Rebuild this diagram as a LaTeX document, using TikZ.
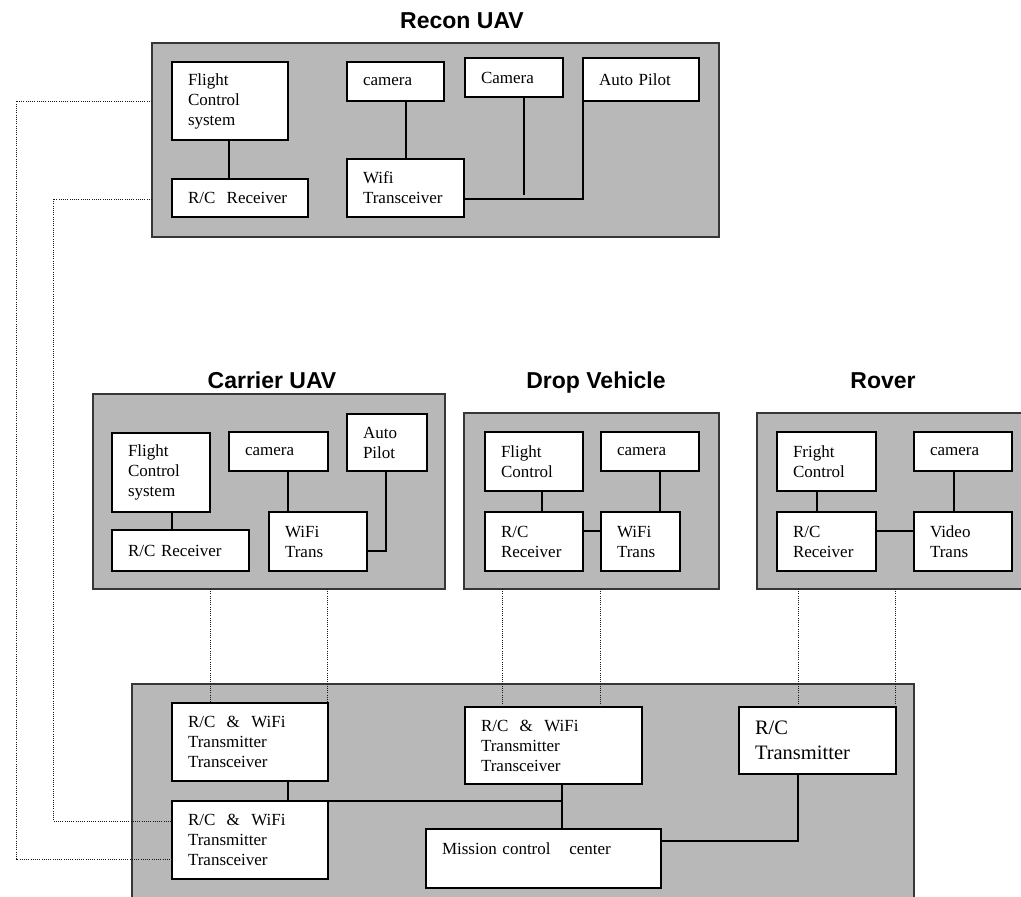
\documentclass[tikz,border=0pt]{standalone}
\usepackage{fontspec}
\setmainfont{Liberation Serif}
\setsansfont{Liberation Sans}
\definecolor{panelgray}{RGB}{184,184,184}
\definecolor{paneledge}{RGB}{55,55,55}
\newcommand\mkblk[7][]{%
  \pgfmathsetmacro\mybw{#5-#3-32}%
  \pgfmathsetmacro\mybh{#6-#4}%
  \node[blk,#1, text width=\mybw pt, minimum height=\mybh pt] (#2) at (#3,#4) {#7};}
\newcommand\mkpanel[5]{%
  \pgfmathsetmacro\mybw{#4-#2}%
  \pgfmathsetmacro\mybh{#5-#3}%
  \node[panelbox, minimum width=\mybw pt, minimum height=\mybh pt] (#1) at (#2,#3) {};}
\begin{document}
\begin{tikzpicture}[x=1pt,y=-1pt,
  panelbox/.style={draw=paneledge, line width=1.4pt, fill=panelgray, anchor=north west, inner sep=0pt, outer sep=0pt},
  blk/.style={draw=black, line width=1.1pt, fill=white, anchor=north west, inner xsep=16pt, inner ysep=0pt, outer sep=0pt, align=left, font=\fontsize{17}{20}\selectfont},
  bigtext/.style={font=\fontsize{20.5}{25}\selectfont},
  title/.style={font=\sffamily\bfseries\fontsize{23}{27}\selectfont, anchor=base, inner sep=0pt},
  wire/.style={line width=1.1pt, draw=black},
  radio/.style={line width=1pt, draw=black!90, dash pattern=on 1pt off 1.2pt}
]
\useasboundingbox (0,0) rectangle (1021,897);
\clip (0,0) rectangle (1021,897);

% titles
\node[title] (trecon) at (462,28) {Recon UAV};
\node[title] (tcarrier) at (272,388) {Carrier UAV};
\node[title] (tdrop) at (596,388) {Drop Vehicle};
\node[title] (trover) at (883,388) {Rover};

% panels
\mkpanel{recon}{152}{43}{719}{237}
\mkpanel{carrier}{93}{394}{445}{589}
\mkpanel{drop}{464}{413}{719}{589}
\mkpanel{rover}{757}{413}{1026}{589}
\mkpanel{ground}{132}{684}{914}{910}

% Recon UAV
\mkblk{rfcs}{172}{62}{288}{140}{Flight\\Control\\system}
\mkblk{rrc}{172}{179}{308}{217}{R/C\ \ Receiver}
\mkblk{rcam}{347}{62}{444}{101}{camera}
\mkblk{rwifi}{347}{159}{464}{217}{Wifi\\Transceiver}
\mkblk{rcam2}{465}{58}{563}{97}{Camera}
\mkblk{rap}{583}{58}{699}{101}{Auto Pilot}
\coordinate (rcamend) at (524,195);
\draw[wire] (rfcs.south -| 229,0) -- (rrc.north -| 229,0);
\draw[wire] (rcam.south -| 406,0) -- (rwifi.north -| 406,0);
\draw[wire] (rcam2.south -| 524,0) -- (rcamend);
\draw[wire] (rwifi.east |- 0,199) -| (rap.south west);

% Carrier UAV
\mkblk{cfcs}{112}{433}{210}{512}{Flight\\Control\\system}
\mkblk{crc}{112}{530}{249}{571}{R/C Receiver}
\mkblk{ccam}{229}{432}{328}{471}{camera}
\mkblk{cwifi}{269}{512}{367}{571}{WiFi\\Trans}
\mkblk{cap}{347}{414}{427}{471}{Auto\\Pilot}
\draw[wire] (cfcs.south -| 172,0) -- (crc.north -| 172,0);
\draw[wire] (ccam.south -| 288,0) -- (cwifi.north -| 288,0);
\draw[wire] (cap.south -| 386,0) |- (cwifi.east |- 0,551);

% Drop Vehicle
\mkblk{dfc}{485}{432}{583}{491}{Flight\\Control}
\mkblk{dcam}{601}{432}{699}{471}{camera}
\mkblk{drc}{485}{512}{583}{571}{R/C\\Receiver}
\mkblk{dwifi}{601}{512}{680}{571}{WiFi\\Trans}
\draw[wire] (dfc.south -| 542,0) -- (drc.north -| 542,0);
\draw[wire] (dcam.south -| 660,0) -- (dwifi.north -| 660,0);
\draw[wire] (drc.east |- 0,531) -- (dwifi.west |- 0,531);

% Rover
\mkblk{vfc}{777}{432}{876}{491}{Fright\\Control}
\mkblk{vcam}{914}{432}{1012}{471}{camera}
\mkblk{vrc}{777}{512}{876}{571}{R/C\\Receiver}
\mkblk{vvid}{914}{512}{1012}{571}{Video\\Trans}
\draw[wire] (vfc.south -| 817,0) -- (vrc.north -| 817,0);
\draw[wire] (vcam.south -| 954,0) -- (vvid.north -| 954,0);
\draw[wire] (vrc.east |- 0,531) -- (vvid.west |- 0,531);

% Ground station
\mkblk{gup}{172}{703}{328}{781}{R/C\ \ \&\ \ WiFi\\Transmitter\\Transceiver}
\mkblk{glow}{172}{801}{328}{879}{R/C\ \ \&\ \ WiFi\\Transmitter\\Transceiver}
\mkblk{gmid}{465}{707}{642}{784}{R/C\ \ \&\ \ WiFi\\Transmitter\\Transceiver}
\mkblk{gmcc}{426}{829}{661}{888}{Mission control\hspace{1.1em}center\\~}
\mkblk[bigtext]{grct}{739}{707}{896}{774}{R/C\\Transmitter}
\draw[wire] (gup.south -| 288,0) -- (glow.north -| 288,0);
\draw[wire] (glow.north east) -| (gmid.south -| 562,0);
\draw[wire] (gmid.south -| 562,0) -- (gmcc.north -| 562,0);
\draw[wire] (gmcc.east |- 0,841) -| (grct.south -| 798,0);

% radio links
\draw[radio] (recon.west |- 0,101) -- (16,101) -- (16,859) -- (glow.west |- 0,859);
\draw[radio] (recon.west |- 0,199) -- (53,199) -- (53,821) -- (glow.west |- 0,821);
\draw[radio] (carrier.south -| 210,0) -- (gup.north -| 210,0);
\draw[radio] (carrier.south -| 327,0) -- (gup.north -| 327,0);
\draw[radio] (drop.south -| 502,0) -- (gmid.north -| 502,0);
\draw[radio] (drop.south -| 600,0) -- (gmid.north -| 600,0);
\draw[radio] (rover.south -| 798,0) -- (grct.north -| 798,0);
\draw[radio] (rover.south -| 895,0) -- (grct.north -| 895,0);
\end{tikzpicture}
\end{document}
